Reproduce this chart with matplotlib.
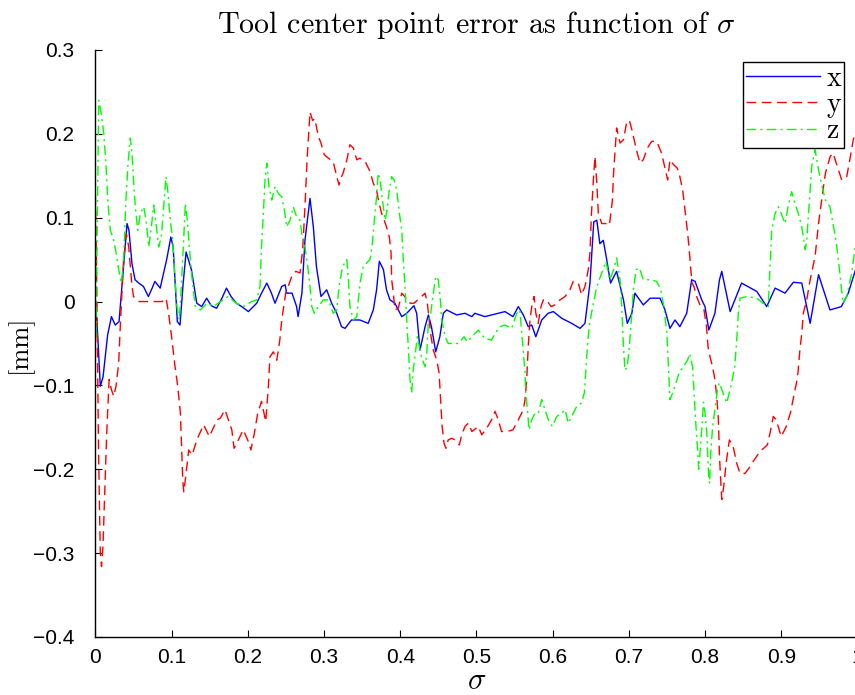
import matplotlib
matplotlib.use("Agg")
import matplotlib.pyplot as plt

# tool center point error components (mm) against path parameter sigma
sigma_x = [0.000, 0.003, 0.0064, 0.010, 0.016, 0.021, 0.026, 0.031, 0.035, 0.0415,
           0.044, 0.048, 0.052, 0.057, 0.063, 0.0695, 0.074, 0.078, 0.085, 0.0935,
           0.099, 0.102, 0.1075, 0.111, 0.115, 0.119, 0.126, 0.133, 0.1395, 0.146,
           0.152, 0.159, 0.166, 0.172, 0.178, 0.185, 0.192, 0.2007, 0.2117, 0.218,
           0.225, 0.231, 0.2357, 0.2445, 0.249, 0.251, 0.258, 0.264, 0.266, 0.271,
           0.275, 0.2816, 0.286, 0.290, 0.296, 0.3035, 0.310, 0.3167, 0.323, 0.3276,
           0.336, 0.347, 0.358, 0.3647, 0.369, 0.3726, 0.378, 0.382, 0.3866, 0.393,
           0.402, 0.4085, 0.418, 0.4216, 0.426, 0.4326, 0.437, 0.441, 0.4466, 0.452,
           0.4566, 0.461, 0.474, 0.485, 0.494, 0.498, 0.511, 0.5375, 0.548, 0.555,
           0.5616, 0.568, 0.5726, 0.578, 0.5857, 0.594, 0.601, 0.612, 0.625, 0.636,
           0.6425, 0.649, 0.654, 0.658, 0.662, 0.6665, 0.671, 0.676, 0.684, 0.693,
           0.698, 0.704, 0.708, 0.719, 0.728, 0.741, 0.7475, 0.754, 0.7606, 0.767,
           0.776, 0.7825, 0.787, 0.7957, 0.800, 0.805, 0.813, 0.819, 0.822, 0.833,
           0.848, 0.868, 0.881, 0.892, 0.905, 0.916, 0.927, 0.938, 0.949, 0.964,
           0.979, 0.988, 1.000]
err_x = [0.000, -0.040, -0.101, -0.090, -0.040, -0.018, -0.028, -0.024, 0.020, 0.093,
         0.085, 0.045, 0.026, 0.022, 0.018, 0.006, 0.015, 0.024, 0.016, 0.050,
         0.077, 0.065, -0.024, -0.028, 0.020, 0.059, 0.038, -0.002, -0.006, 0.004,
         -0.005, -0.008, 0.004, 0.016, 0.006, -0.002, -0.006, -0.012, -0.002, 0.010,
         0.022, 0.010, -0.002, 0.018, 0.020, 0.010, 0.010, -0.006, -0.018, 0.010,
         0.073, 0.123, 0.089, 0.042, 0.006, 0.014, -0.002, -0.014, -0.030, -0.032,
         -0.022, -0.022, -0.026, -0.010, 0.014, 0.048, 0.038, 0.014, 0.002, -0.002,
         -0.018, -0.014, -0.005, -0.014, -0.058, -0.030, -0.016, -0.030, -0.060, -0.042,
         -0.014, -0.010, -0.016, -0.014, -0.018, -0.014, -0.018, -0.012, -0.018, -0.006,
         -0.016, -0.030, -0.028, -0.042, -0.022, -0.014, -0.012, -0.020, -0.026, -0.032,
         -0.026, 0.022, 0.095, 0.097, 0.069, 0.073, 0.050, 0.022, 0.036, 0.002,
         -0.026, -0.014, 0.010, -0.004, 0.004, 0.004, -0.010, -0.032, -0.022, -0.030,
         -0.014, 0.026, 0.024, 0.002, -0.006, -0.034, -0.014, 0.026, 0.036, -0.012,
         0.022, 0.012, -0.006, 0.016, 0.010, 0.023, 0.022, -0.026, 0.032, -0.010,
         -0.006, 0.010, 0.045]

sigma_y = [0.000, 0.002, 0.004, 0.0064, 0.008, 0.010, 0.012, 0.015, 0.018, 0.021,
           0.024, 0.027, 0.0305, 0.033, 0.037, 0.0406, 0.0437, 0.048, 0.050, 0.057,
           0.072, 0.0874, 0.0927, 0.096, 0.1005, 0.104, 0.108, 0.1115, 0.113, 0.1146,
           0.116, 0.119, 0.1224, 0.127, 0.133, 0.142, 0.1495, 0.1596, 0.164, 0.170,
           0.179, 0.182, 0.1876, 0.194, 0.2007, 0.204, 0.2086, 0.213, 0.218, 0.2235,
           0.227, 0.229, 0.2335, 0.238, 0.242, 0.2445, 0.2497, 0.253, 0.2576, 0.263,
           0.2685, 0.272, 0.275, 0.278, 0.2816, 0.285, 0.288, 0.2925, 0.296, 0.3004,
           0.3056, 0.312, 0.3167, 0.3197, 0.323, 0.325, 0.330, 0.334, 0.3385, 0.343,
           0.347, 0.354, 0.3604, 0.3647, 0.369, 0.372, 0.3757, 0.379, 0.382, 0.3857,
           0.388, 0.3888, 0.391, 0.393, 0.3975, 0.402, 0.406, 0.413, 0.418, 0.428,
           0.4326, 0.4356, 0.438, 0.4405, 0.4435, 0.448, 0.451, 0.453, 0.455, 0.4575,
           0.460, 0.463, 0.4676, 0.472, 0.4776, 0.4807, 0.485, 0.4894, 0.494, 0.5025,
           0.507, 0.5135, 0.520, 0.5244, 0.5287, 0.533, 0.5397, 0.548, 0.555, 0.5616,
           0.5638, 0.566, 0.568, 0.5703, 0.5726, 0.5756, 0.578, 0.581, 0.5848, 0.5878,
           0.592, 0.598, 0.603, 0.6097, 0.6163, 0.6228, 0.627, 0.6337, 0.638, 0.6425,
           0.6468, 0.649, 0.651, 0.6535, 0.6556, 0.658, 0.660, 0.6645, 0.671, 0.6745,
           0.6785, 0.680, 0.682, 0.684, 0.6885, 0.693, 0.6973, 0.7007, 0.704, 0.708,
           0.710, 0.7147, 0.719, 0.7243, 0.730, 0.7366, 0.743, 0.7475, 0.751, 0.754,
           0.759, 0.7637, 0.767, 0.7707, 0.7737, 0.7768, 0.779, 0.781, 0.783, 0.7855,
           0.789, 0.7934, 0.7987, 0.802, 0.804, 0.8066, 0.810, 0.813, 0.8153, 0.8175,
           0.819, 0.8206, 0.822, 0.8245, 0.8277, 0.832, 0.837, 0.8416, 0.846, 0.8525,
           0.859, 0.863, 0.872, 0.8818, 0.8853, 0.8897, 0.8934, 0.900, 0.9066, 0.912,
           0.9155, 0.920, 0.922, 0.9245, 0.927, 0.929, 0.9335, 0.938, 0.9445, 0.949,
           0.9537, 0.958, 0.9643, 0.968, 0.9794, 0.986, 0.990, 0.9946, 1.000]
err_y = [0.127, 0.000, -0.173, -0.300, -0.316, -0.290, -0.233, -0.153, -0.093, -0.105,
         -0.113, -0.101, -0.074, -0.022, 0.050, 0.081, 0.065, 0.018, 0.006, 0.000,
         0.000, 0.000, 0.004, -0.014, -0.046, -0.074, -0.101, -0.133, -0.173, -0.213,
         -0.227, -0.205, -0.177, -0.183, -0.165, -0.147, -0.161, -0.141, -0.139, -0.129,
         -0.153, -0.175, -0.165, -0.153, -0.167, -0.177, -0.157, -0.133, -0.119, -0.143,
         -0.101, -0.066, -0.060, -0.070, -0.046, -0.022, 0.010, 0.018, 0.030, 0.036,
         0.034, 0.062, 0.113, 0.173, 0.226, 0.216, 0.218, 0.197, 0.189, 0.175,
         0.171, 0.167, 0.149, 0.139, 0.149, 0.153, 0.169, 0.187, 0.183, 0.169,
         0.171, 0.167, 0.155, 0.141, 0.133, 0.118, 0.105, 0.097, 0.089, 0.077,
         0.058, 0.026, 0.010, -0.010, -0.008, 0.010, 0.006, -0.002, -0.002, 0.006,
         0.010, -0.002, -0.022, -0.042, -0.058, -0.070, -0.085, -0.117, -0.149, -0.169,
         -0.175, -0.165, -0.163, -0.165, -0.171, -0.159, -0.149, -0.145, -0.155, -0.149,
         -0.159, -0.151, -0.141, -0.131, -0.141, -0.155, -0.155, -0.153, -0.141, -0.129,
         -0.117, -0.093, -0.054, -0.022, -0.006, 0.006, -0.014, -0.026, -0.006, 0.002,
         0.002, -0.006, -0.004, 0.002, 0.006, 0.014, 0.024, 0.022, 0.008, 0.018,
         0.038, 0.058, 0.105, 0.145, 0.173, 0.141, 0.105, 0.093, 0.093, 0.091,
         0.121, 0.153, 0.181, 0.207, 0.189, 0.193, 0.214, 0.216, 0.205, 0.189,
         0.181, 0.165, 0.169, 0.183, 0.191, 0.191, 0.177, 0.159, 0.145, 0.169,
         0.163, 0.159, 0.149, 0.133, 0.109, 0.085, 0.065, 0.042, 0.022, 0.018,
         0.006, -0.004, -0.010, -0.030, -0.054, -0.066, -0.078, -0.093, -0.112, -0.140,
         -0.185, -0.213, -0.236, -0.221, -0.193, -0.165, -0.173, -0.193, -0.205, -0.205,
         -0.197, -0.191, -0.179, -0.171, -0.157, -0.137, -0.141, -0.161, -0.149, -0.133,
         -0.117, -0.097, -0.085, -0.058, -0.038, -0.014, 0.002, 0.026, 0.054, 0.093,
         0.125, 0.153, 0.173, 0.177, 0.145, 0.149, 0.169, 0.193, 0.210]

sigma_z = [0.000, 0.001, 0.002, 0.0043, 0.0077, 0.011, 0.014, 0.0165, 0.0196, 0.024,
           0.027, 0.0305, 0.034, 0.037, 0.040, 0.0428, 0.0458, 0.048, 0.050, 0.0524,
           0.0555, 0.059, 0.0634, 0.0664, 0.070, 0.0734, 0.0765, 0.0795, 0.083, 0.0865,
           0.0896, 0.0926, 0.0953, 0.0983, 0.1014, 0.104, 0.107, 0.110, 0.1127, 0.1158,
           0.118, 0.1206, 0.1232, 0.127, 0.131, 0.1377, 0.1465, 0.155, 0.164, 0.168,
           0.174, 0.185, 0.194, 0.205, 0.2117, 0.216, 0.218, 0.2204, 0.2226, 0.225,
           0.2278, 0.2314, 0.2357, 0.240, 0.2445, 0.248, 0.251, 0.2554, 0.2597, 0.264,
           0.2685, 0.2715, 0.275, 0.2786, 0.2816, 0.284, 0.2873, 0.2925, 0.299, 0.3056,
           0.312, 0.3167, 0.3197, 0.3245, 0.330, 0.332, 0.334, 0.3385, 0.343, 0.345,
           0.348, 0.3516, 0.356, 0.3604, 0.3634, 0.366, 0.369, 0.371, 0.3735, 0.3757,
           0.380, 0.382, 0.3857, 0.3888, 0.392, 0.3954, 0.399, 0.402, 0.404, 0.4063,
           0.4085, 0.4106, 0.4128, 0.415, 0.417, 0.4225, 0.428, 0.4326, 0.4348, 0.437,
           0.440, 0.4435, 0.4466, 0.450, 0.4523, 0.4545, 0.459, 0.463, 0.4697, 0.4763,
           0.4837, 0.488, 0.494, 0.5025, 0.511, 0.520, 0.5244, 0.531, 0.5375, 0.5463,
           0.553, 0.557, 0.5595, 0.5616, 0.5638, 0.565, 0.567, 0.569, 0.5726, 0.577,
           0.5813, 0.5857, 0.590, 0.5944, 0.5996, 0.6054, 0.612, 0.6163, 0.6206, 0.625,
           0.6316, 0.638, 0.6416, 0.6435, 0.6456, 0.648, 0.651, 0.658, 0.6645, 0.670,
           0.675, 0.680, 0.684, 0.6885, 0.6907, 0.693, 0.695, 0.698, 0.7007, 0.7033,
           0.706, 0.7095, 0.714, 0.719, 0.7278, 0.7366, 0.742, 0.746, 0.750, 0.752,
           0.754, 0.7576, 0.762, 0.766, 0.7715, 0.777, 0.780, 0.7837, 0.7855, 0.7873,
           0.790, 0.7917, 0.7934, 0.7957, 0.798, 0.800, 0.8024, 0.8046, 0.806, 0.8075,
           0.810, 0.813, 0.8163, 0.8188, 0.8285, 0.835, 0.839, 0.8416, 0.8437, 0.846,
           0.855, 0.868, 0.876, 0.883, 0.885, 0.8875, 0.892, 0.8963, 0.900, 0.905,
           0.909, 0.9137, 0.918, 0.9225, 0.927, 0.9315, 0.9335, 0.938, 0.940, 0.9445,
           0.949, 0.9537, 0.958, 0.964, 0.968, 0.9725, 0.977, 0.981, 0.986, 0.9925,
           1.000]
err_z = [0.000, -0.045, 0.060, 0.240, 0.224, 0.200, 0.161, 0.117, 0.085, 0.073,
         0.059, 0.038, 0.022, 0.050, 0.121, 0.165, 0.195, 0.177, 0.145, 0.113,
         0.085, 0.105, 0.113, 0.097, 0.065, 0.089, 0.115, 0.093, 0.065, 0.077,
         0.113, 0.149, 0.129, 0.097, 0.073, 0.034, -0.006, -0.022, 0.018, 0.073,
         0.117, 0.097, 0.065, 0.026, -0.006, -0.010, -0.002, -0.006, 0.000, 0.002,
         0.006, -0.002, -0.006, 0.000, 0.002, 0.018, 0.065, 0.105, 0.145, 0.165,
         0.137, 0.121, 0.137, 0.129, 0.125, 0.109, 0.089, 0.097, 0.113, 0.101,
         0.097, 0.077, 0.065, 0.042, 0.018, -0.006, -0.014, -0.006, 0.002, 0.002,
         -0.014, -0.010, 0.018, 0.042, 0.050, 0.026, -0.006, -0.022, -0.018, 0.002,
         0.026, 0.042, 0.046, 0.050, 0.069, 0.097, 0.125, 0.153, 0.145, 0.129,
         0.097, 0.105, 0.133, 0.149, 0.145, 0.133, 0.105, 0.085, 0.050, 0.018,
         -0.022, -0.054, -0.093, -0.109, -0.082, -0.042, -0.066, -0.078, -0.062, -0.022,
         -0.014, 0.010, 0.030, 0.026, 0.006, -0.022, -0.042, -0.050, -0.050, -0.050,
         -0.042, -0.048, -0.042, -0.034, -0.044, -0.046, -0.038, -0.030, -0.028, -0.032,
         -0.014, -0.010, -0.038, -0.062, -0.085, -0.113, -0.129, -0.153, -0.141, -0.133,
         -0.133, -0.117, -0.129, -0.141, -0.149, -0.137, -0.133, -0.129, -0.145, -0.137,
         -0.125, -0.121, -0.109, -0.085, -0.054, -0.030, -0.014, 0.018, 0.034, 0.048,
         0.026, 0.038, 0.052, 0.026, -0.006, -0.054, -0.082, -0.078, -0.054, -0.022,
         0.014, 0.038, 0.040, 0.026, 0.026, 0.024, 0.014, -0.006, -0.038, -0.078,
         -0.117, -0.109, -0.097, -0.085, -0.078, -0.070, -0.062, -0.078, -0.105, -0.137,
         -0.173, -0.200, -0.181, -0.153, -0.120, -0.133, -0.157, -0.205, -0.217, -0.181,
         -0.149, -0.129, -0.105, -0.097, -0.121, -0.097, -0.078, -0.046, -0.014, 0.004,
         0.006, 0.004, -0.002, -0.006, 0.034, 0.085, 0.105, 0.113, 0.105, 0.093,
         0.113, 0.131, 0.117, 0.105, 0.089, 0.062, 0.073, 0.133, 0.161, 0.181,
         0.157, 0.137, 0.121, 0.113, 0.093, 0.069, 0.034, -0.002, 0.006, 0.034,
         0.085]

x_ticks = [0.0, 0.1, 0.2, 0.3, 0.4, 0.5, 0.6, 0.7, 0.8, 0.9, 1.0]
x_tick_labels = ["0", "0.1", "0.2", "0.3", "0.4", "0.5", "0.6", "0.7", "0.8", "0.9", "1"]
y_ticks = [-0.4, -0.3, -0.2, -0.1, 0.0, 0.1, 0.2, 0.3]
y_tick_labels = ["\u22120.4", "\u22120.3", "\u22120.2", "\u22120.1", "0", "0.1", "0.2", "0.3"]

plt.rcParams["mathtext.fontset"] = "cm"
plt.rcParams["lines.scale_dashes"] = False
tick_font = ["Liberation Sans Narrow", "Liberation Sans", "DejaVu Sans"]

fig = plt.figure(figsize=(8.55, 6.95), dpi=100)
ax = fig.add_axes([0.1116, 0.0835, 0.8912, 0.8446])

ax.plot(sigma_x, err_x, color=(0, 0, 1), lw=1.0, label="x")
ax.plot(sigma_y, err_y, color=(1, 0, 0), lw=1.0, dashes=(7, 4), label="y")
ax.plot(sigma_z, err_z, color=(0, 1, 0), lw=1.0, dashes=(7, 3, 1.5, 3), label="z")

ax.set_xlim(0, 1)
ax.set_ylim(-0.4, 0.3)
ax.set_xticks(x_ticks)
ax.set_xticklabels(x_tick_labels)
ax.set_yticks(y_ticks)
ax.set_yticklabels(y_tick_labels)
for lab in ax.get_xticklabels() + ax.get_yticklabels():
    lab.set_family(tick_font)
    lab.set_fontsize(15)
ax.tick_params(direction="in", length=5, width=0.8, top=False, right=False)
ax.tick_params(axis="y", pad=15)
ax.tick_params(axis="x", pad=8)
ax.spines["top"].set_visible(False)
ax.spines["right"].set_visible(False)
for s in ("left", "bottom"):
    ax.spines[s].set_linewidth(1.0)

ax.set_title("Tool center point error as function of $\\sigma$",
             family="cmr10", fontsize=21.6, pad=12)
ax.set_xlabel("$\\sigma$", fontsize=22)
ax.xaxis.set_label_coords(0.5, -0.05)
ax.set_ylabel("[mm]", family="cmr10", fontsize=19)
ax.yaxis.set_label_coords(-0.082, 0.5)

leg = ax.legend(loc="upper right", bbox_to_anchor=(0.983, 0.9796), borderaxespad=0,
                prop={"family": "cmr10", "size": 20}, handlelength=2.65,
                handletextpad=0.25, labelspacing=0.0, borderpad=0.12,
                fancybox=False, framealpha=1, edgecolor="black")
leg.get_frame().set_linewidth(1.0)

fig.savefig("out.png", dpi=100, facecolor="white")
